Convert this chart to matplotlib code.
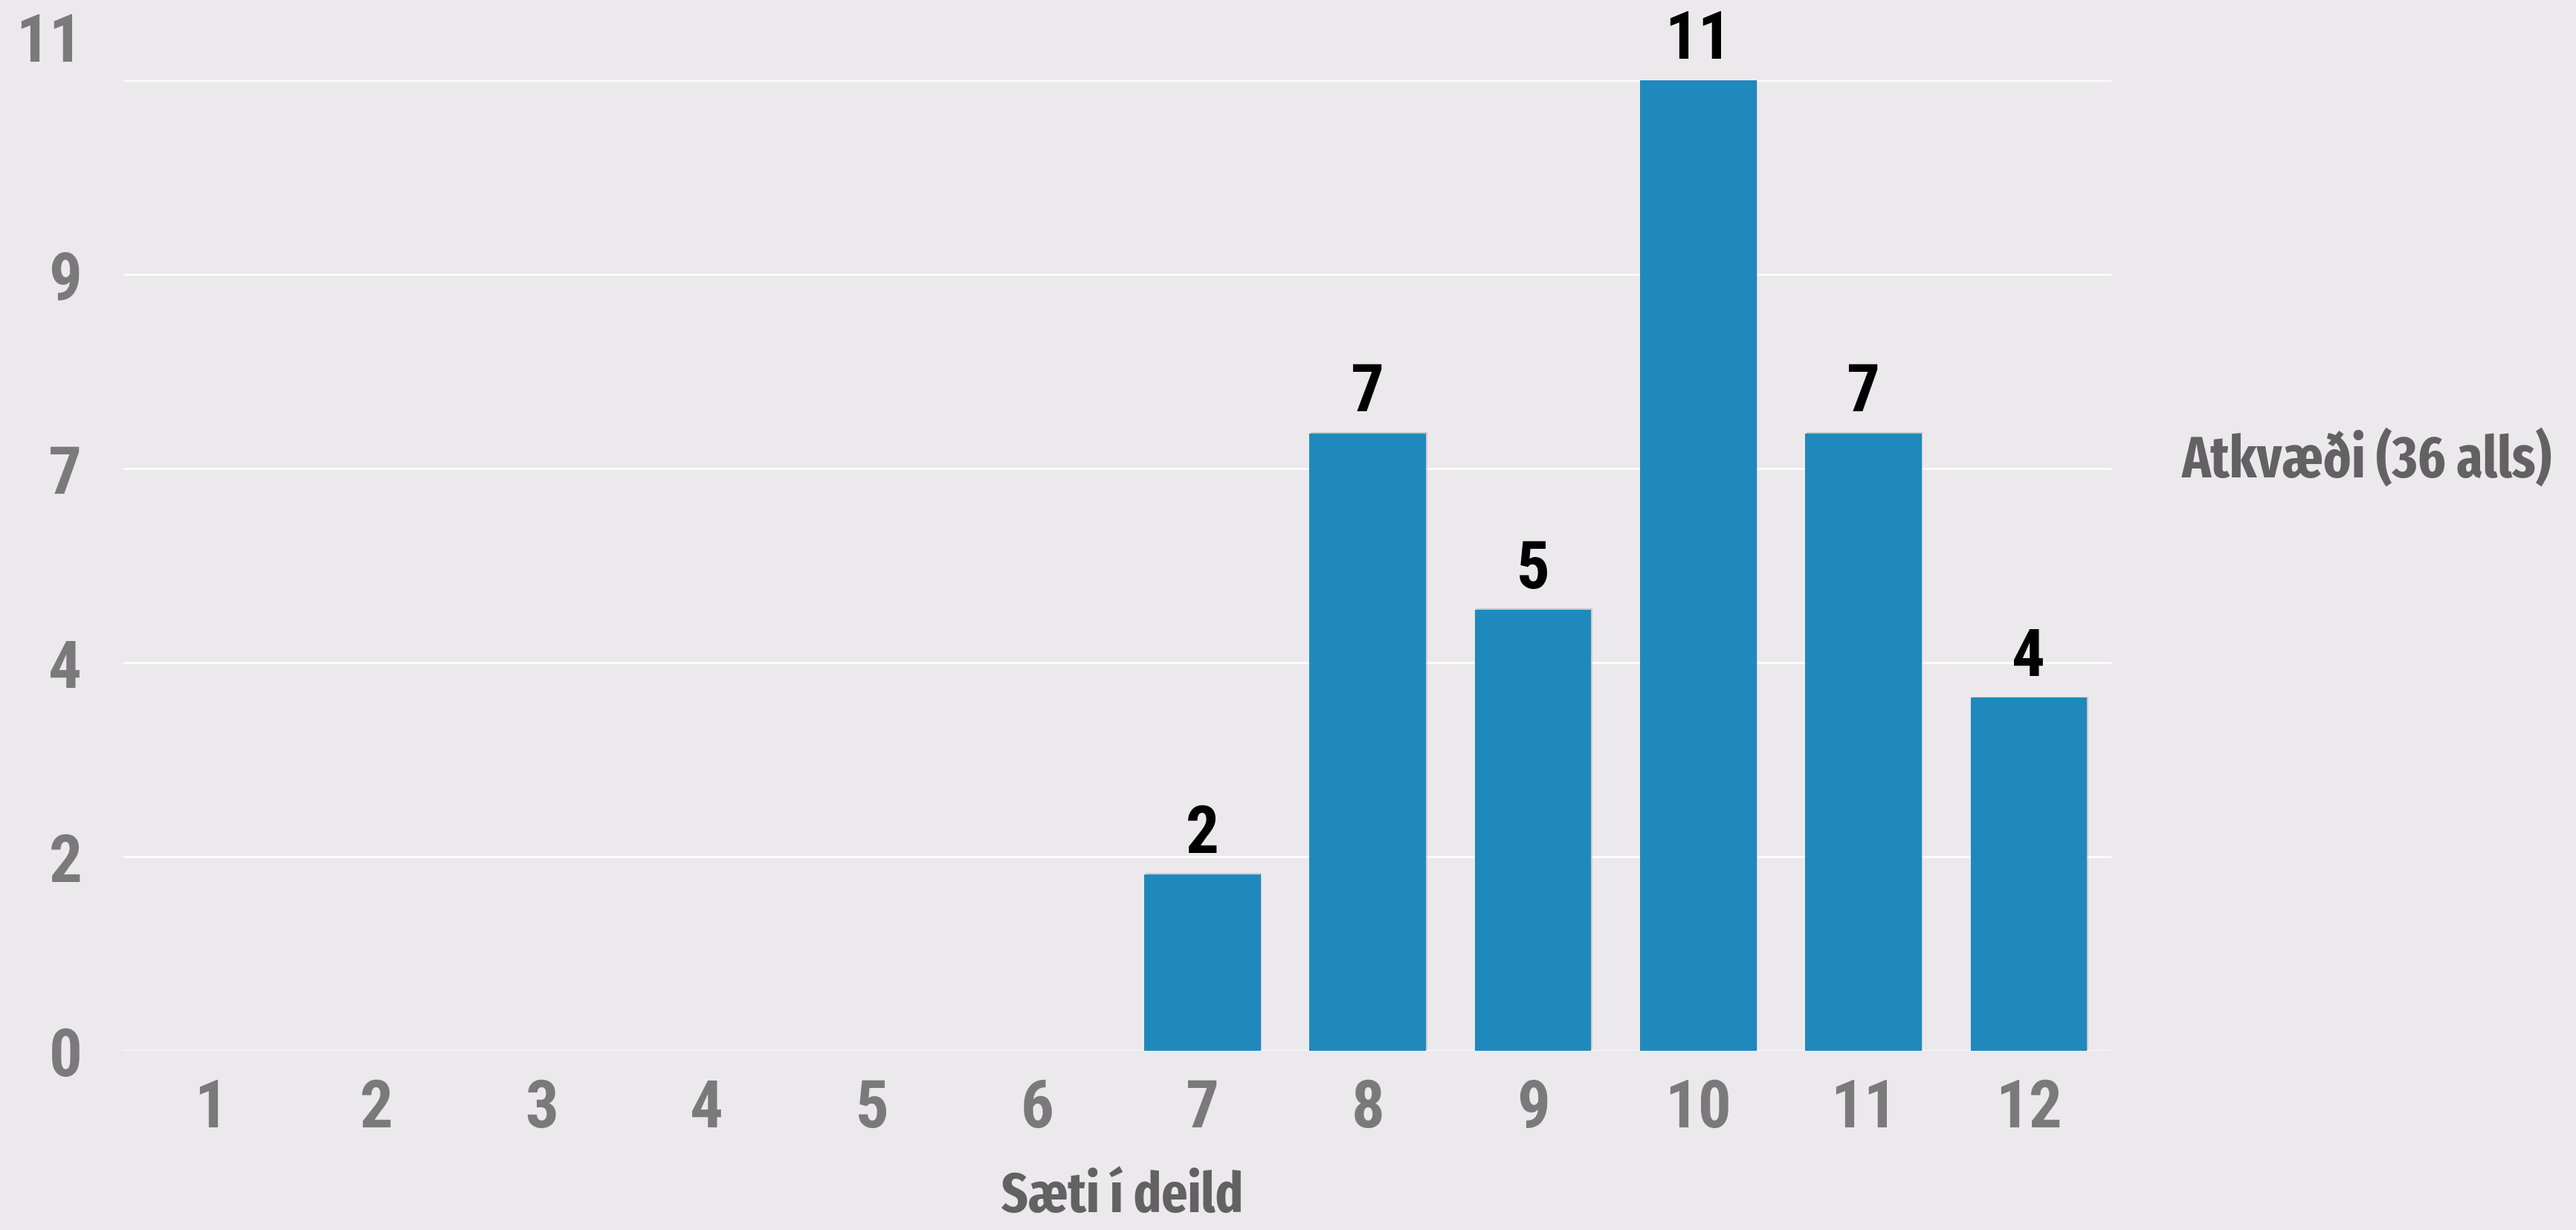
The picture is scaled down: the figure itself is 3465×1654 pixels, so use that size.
import matplotlib
matplotlib.use("Agg")
import matplotlib.pyplot as plt
import matplotlib.transforms as mtransforms
import matplotlib.patheffects as pe

# Data
places = [1, 2, 3, 4, 5, 6, 7, 8, 9, 10, 11, 12]
votes = [0, 0, 0, 0, 0, 0, 2, 7, 5, 11, 7, 4]
y_ticks = [0, 2.2, 4.4, 6.6, 8.8, 11]
series_name = "Atkvæði (36 alls)"
x_title = "Sæti í deild"

num_font = ['Roboto Condensed', 'Fira Sans Condensed', 'DejaVu Sans']
title_font = ['Fira Sans Extra Condensed', 'DejaVu Sans']
plt.rcParams['font.family'] = num_font

fig = plt.figure(figsize=(34.66, 16.54), dpi=100, facecolor='#ece9ed')
ax = fig.add_axes([0.0479, 0.1457, 0.7715, 0.789])
ax.set_facecolor('none')

# Bars
bars = ax.bar(places, votes, width=0.705, color='#1f89be', zorder=3)
for b, v in zip(bars, votes):
    if v > 0:
        b.set_path_effects([
            pe.SimplePatchShadow(offset=(1, 1), shadow_rgbFace='#666666', alpha=0.25),
            pe.Normal()
        ])
        ax.annotate(str(v), (b.get_x() + b.get_width() / 2, v),
                    xytext=(0, 8), textcoords='offset points',
                    ha='center', va='bottom', fontsize=64,
                    fontweight='bold', color='black')

# Axes
ax.set_xlim(0.47, 12.5)
ax.set_ylim(0, 11)
ax.set_xticks(places)
ax.set_yticks(y_ticks)
ax.set_yticklabels([f"{v:.0f}" for v in y_ticks])
ax.grid(axis='y', color='white', lw=1.8, zorder=0)
ax.set_axisbelow(True)
for s in ax.spines.values():
    s.set_visible(False)

ax.tick_params(axis='both', length=0, labelsize=64, labelcolor='#7a7a7a')
ax.tick_params(axis='x', pad=26)
ax.tick_params(axis='y', pad=40)
for lbl in ax.get_xticklabels() + ax.get_yticklabels():
    lbl.set_fontweight('bold')

# top label sits above its gridline
top = ax.get_yticklabels()[-1]
top.set_transform(top.get_transform() +
                  mtransforms.ScaledTranslation(0, 42 / 72, fig.dpi_scale_trans))

# Titles
xl = fig.text(0.4355, 0.0266, x_title, fontsize=60, fontweight='bold',
              color='#626262', ha='center', va='center', family=title_font)
sl = fig.text(0.8468, 0.6258, series_name, fontsize=60, fontweight='bold',
              color='#626262', ha='left', va='center', family=title_font)

# fit the titles to the widths they take in the original
r = fig.canvas.get_renderer()
for t, w in [(xl, 325), (sl, 498)]:
    cur = t.get_window_extent(r).width
    t.set_fontsize(t.get_fontsize() * w / cur)

plt.savefig("out.png", dpi=100, facecolor=fig.get_facecolor())
